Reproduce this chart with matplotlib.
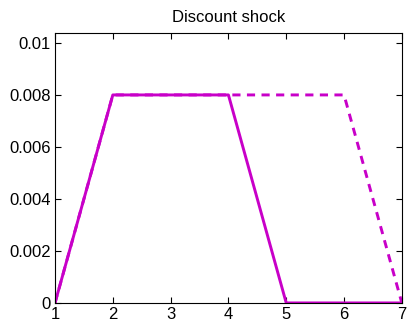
import matplotlib
matplotlib.use("Agg")
from matplotlib import pyplot as plt

plt.rcParams['font.family'] = ['Liberation Sans', 'DejaVu Sans']

# quarters after the shock
periods = [1, 2, 3, 4, 5, 6, 7]
shock_short = [0, 0.008, 0.008, 0.008, 0, 0, 0]     # solid
shock_long = [0, 0.008, 0.008, 0.008, 0.008, 0.008, 0]  # dashed

fig = plt.figure(figsize=(4.09, 3.24), dpi=100)
ax = fig.add_axes([0.1345, 0.065, 0.848, 0.833])

col = '#c800c8'
ax.plot(periods, shock_long, '--', color=col, lw=2.1, dashes=(2.8, 2.2))
ax.plot(periods, shock_short, '-', color=col, lw=2.1)

ax.set_xlim(1, 7)
ax.set_ylim(0, 0.01038)
ax.set_xticks(periods)
ax.set_yticks([0, 0.002, 0.004, 0.006, 0.008, 0.01])
ax.set_yticklabels(['0', '0.002', '0.004', '0.006', '0.008', '0.01'])
ax.tick_params(direction='in', top=True, right=True, labelsize=12, length=4, pad=3)
ax.set_title("Discount shock", fontsize=12, pad=8)

fig.savefig("out.png", dpi=100)
